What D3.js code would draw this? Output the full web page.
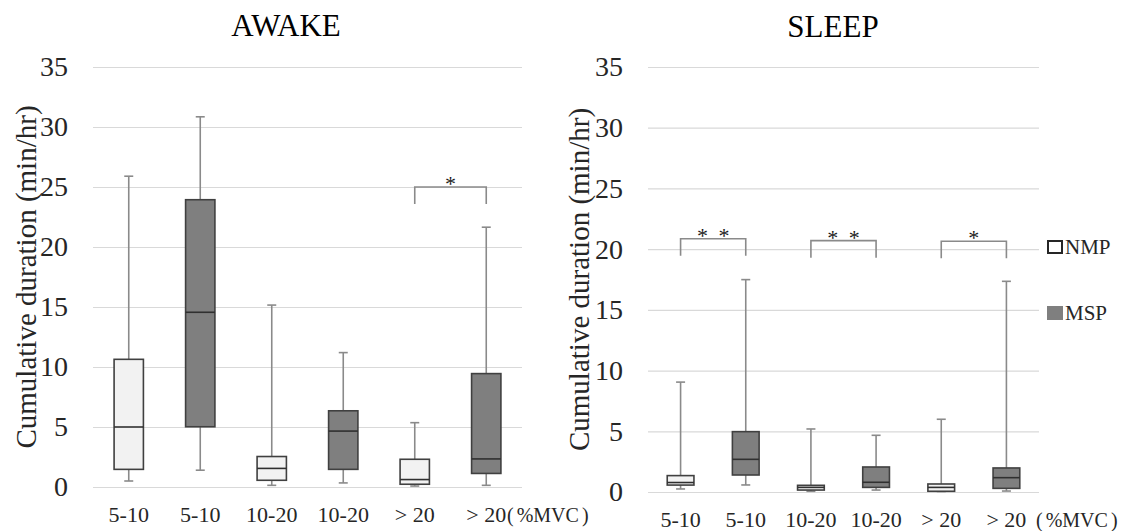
<!DOCTYPE html>
<html>
<head>
<meta charset="utf-8">
<script src="https://cdnjs.cloudflare.com/ajax/libs/d3/7.8.5/d3.min.js"></script>
<style>
	body { margin: 0; background: #fff; }
</style>
</head>
<body>
<div id="main"></div>
<script>

	// categories along x, NMP / MSP alternate
	var categories = ["5-10", "5-10", "10-20", "10-20", "> 20", "> 20"];
	var groups = ["NMP", "MSP", "NMP", "MSP", "NMP", "MSP"];
	var yTicks = [0, 5, 10, 15, 20, 25, 30, 35];

	// AWAKE box stats (min/hr)
	var awakeMin    = [0.5, 1.4, 0.14, 0.34, 0.08, 0.14];
	var awakeQ1     = [1.47, 5.02, 0.56, 1.47, 0.23, 1.13];
	var awakeMedian = [5.0, 14.56, 1.55, 4.66, 0.62, 2.34];
	var awakeQ3     = [10.64, 23.94, 2.54, 6.35, 2.31, 9.45];
	var awakeMax    = [25.9, 30.85, 15.16, 11.2, 5.36, 21.65];

	// SLEEP box stats (min/hr)
	var sleepMin    = [0.25, 0.58, 0.06, 0.16, 0.04, 0.08];
	var sleepQ1     = [0.57, 1.40, 0.16, 0.38, 0.06, 0.30];
	var sleepMedian = [0.78, 2.69, 0.38, 0.80, 0.38, 1.18];
	var sleepQ3     = [1.35, 4.97, 0.55, 2.06, 0.66, 1.98];
	var sleepMax    = [9.05, 17.49, 5.19, 4.67, 5.99, 17.35];

	// significance brackets: [from, to, level, label]
	var awakeSig = [[4, 5, 25.0, "*"]];
	var sleepSig = [[0, 1, 20.85, "* *"], [2, 3, 20.7, "* *"], [4, 5, 20.65, "*"]];

	var w = 1122,
		h = 531;

	var serif = "'Liberation Serif', 'Times New Roman', serif";

	var fills = { NMP: "#f2f2f2", MSP: "#7f7f7f" };

	var svg = d3.select("#main")
		.append("svg")
		.attr("width", w)
		.attr("height", h)
		.style("font-family", serif);

	var panels = [
		{ title: "AWAKE", left: 93, right: 522, top: 67, bottom: 487,
		  min: awakeMin, q1: awakeQ1, med: awakeMedian, q3: awakeQ3, max: awakeMax, sig: awakeSig,
		  titleX: 286, titleY: 36, labelX: 26, mvcX: 507 },
		{ title: "SLEEP", left: 648, right: 1039, top: 67, bottom: 492,
		  min: sleepMin, q1: sleepQ1, med: sleepMedian, q3: sleepQ3, max: sleepMax, sig: sleepSig,
		  titleX: 833, titleY: 37, labelX: 579, mvcX: 1036 }
	];

	panels.forEach(drawPanel);

	function drawPanel(p) {
		var x = d3.scaleBand()
			.domain(d3.range(categories.length))
			.range([p.left, p.right]);

		var y = d3.scaleLinear()
			.domain([0, 35])
			.range([p.bottom, p.top]);

		var g = svg.append("g");

		// gridlines + y ticks
		g.append("g")
			.attr("transform", "translate(" + p.left + ",0)")
			.call(d3.axisLeft(y).tickValues(yTicks).tickSize(-(p.right - p.left)).tickPadding(25))
			.attr("font-family", null)
			.call(function(a) { a.select(".domain").remove(); })
			.call(function(a) {
				a.selectAll(".tick line").attr("stroke", "#d9d9d9").attr("stroke-width", 1.2);
				a.selectAll(".tick text")
					.style("font-family", serif)
					.attr("font-size", 28)
					.attr("fill", "#262626");
			});

		// category labels
		g.append("g")
			.attr("transform", "translate(0," + p.bottom + ")")
			.call(d3.axisBottom(x).tickSize(0).tickPadding(19.5).tickFormat(function(i) { return categories[i]; }))
			.attr("font-family", null)
			.call(function(a) { a.select(".domain").remove(); })
			.call(function(a) {
				a.selectAll(".tick text")
					.style("font-family", serif)
					.attr("font-size", 22)
					.attr("fill", "#262626");
			});

		var bw = x.bandwidth() * 0.41;
		var cx = function(i) { return x(i) + x.bandwidth() / 2; };

		var rows = d3.range(categories.length).map(function(i) {
			return { i: i, group: groups[i], min: p.min[i], q1: p.q1[i], med: p.med[i], q3: p.q3[i], max: p.max[i] };
		});

		var box = g.selectAll(".box")
			.data(rows)
			.enter()
			.append("g")
			.attr("class", "box");

		// whisker
		box.append("line")
			.attr("x1", function(d) { return cx(d.i); })
			.attr("x2", function(d) { return cx(d.i); })
			.attr("y1", function(d) { return y(d.min); })
			.attr("y2", function(d) { return y(d.max); })
			.attr("stroke", "#8a8a8a")
			.attr("stroke-width", 1.6);

		box.selectAll(".cap")
			.data(function(d) { return [[d.i, d.min], [d.i, d.max]]; })
			.enter()
			.append("line")
			.attr("x1", function(c) { return cx(c[0]) - 4.5; })
			.attr("x2", function(c) { return cx(c[0]) + 4.5; })
			.attr("y1", function(c) { return y(c[1]); })
			.attr("y2", function(c) { return y(c[1]); })
			.attr("stroke", "#8a8a8a")
			.attr("stroke-width", 1.6);

		box.append("rect")
			.attr("x", function(d) { return cx(d.i) - bw / 2; })
			.attr("width", bw)
			.attr("y", function(d) { return y(d.q3); })
			.attr("height", function(d) { return y(d.q1) - y(d.q3); })
			.attr("fill", function(d) { return fills[d.group]; })
			.attr("stroke", "#404040")
			.attr("stroke-width", 1.6);

		box.append("line")
			.attr("x1", function(d) { return cx(d.i) - bw / 2; })
			.attr("x2", function(d) { return cx(d.i) + bw / 2; })
			.attr("y1", function(d) { return y(d.med); })
			.attr("y2", function(d) { return y(d.med); })
			.attr("stroke", "#303030")
			.attr("stroke-width", 1.6);

		// significance brackets
		var sig = g.selectAll(".sig")
			.data(p.sig)
			.enter()
			.append("g")
			.attr("class", "sig");

		sig.append("path")
			.attr("d", function(s) {
				var yy = y(s[2]);
				return "M" + cx(s[0]) + "," + (yy + 17) + "V" + yy + "H" + cx(s[1]) + "V" + (yy + 17);
			})
			.attr("fill", "none")
			.attr("stroke", "#8a8a8a")
			.attr("stroke-width", 1.6);

		sig.append("text")
			.attr("x", function(s) { return (cx(s[0]) + cx(s[1])) / 2; })
			.attr("y", function(s) { return y(s[2]) + 4; })
			.attr("text-anchor", "middle")
			.attr("font-size", 22)
			.attr("fill", "#1a1a1a")
			.style("white-space", "pre")
			.attr("word-spacing", 5)
			.text(function(s) { return s[3]; });

		// titles
		g.append("text")
			.attr("x", p.titleX)
			.attr("y", p.titleY)
			.attr("text-anchor", "middle")
			.attr("font-size", 31)
			.text(p.title);

		g.append("text")
			.attr("transform", "translate(" + (p.labelX + 10) + "," + ((p.top + p.bottom) / 2) + ") rotate(-90)")
			.attr("text-anchor", "middle")
			.attr("font-size", 29)
			.attr("fill", "#262626")
			.text("Cumulative duration (min/hr)");

		var mvc = g.append("text")
			.attr("x", p.mvcX)
			.attr("y", p.bottom + 35)
			.attr("font-size", 20)
			.attr("fill", "#262626");
		mvc.append("tspan").text("(");
		mvc.append("tspan").attr("dx", 3).text("%MVC");
		mvc.append("tspan").attr("dx", 3).text(")");
	}

	// legend
	var legend = svg.append("g")
		.attr("transform", "translate(1047,0)");

	var legendItems = [["NMP", 240], ["MSP", 306]];

	legend.selectAll("rect")
		.data(legendItems)
		.enter()
		.append("rect")
		.attr("x", function(d) { return d[0] == "NMP" ? 1 : 0; })
		.attr("y", function(d) { return d[1] + (d[0] == "NMP" ? 1 : 0); })
		.attr("width", function(d) { return d[0] == "NMP" ? 14 : 16; })
		.attr("height", function(d) { return d[0] == "NMP" ? 12 : 14; })
		.attr("fill", function(d) { return d[0] == "NMP" ? "#fff" : fills.MSP; })
		.attr("stroke", function(d) { return d[0] == "NMP" ? "#262626" : "none"; })
		.attr("stroke-width", 2);

	legend.selectAll("text")
		.data(legendItems)
		.enter()
		.append("text")
		.attr("x", 18)
		.attr("y", function(d) { return d[1] + 14; })
		.attr("font-size", 21)
		.attr("fill", "#262626")
		.text(function(d) { return d[0]; });

</script>
</body>
</html>
